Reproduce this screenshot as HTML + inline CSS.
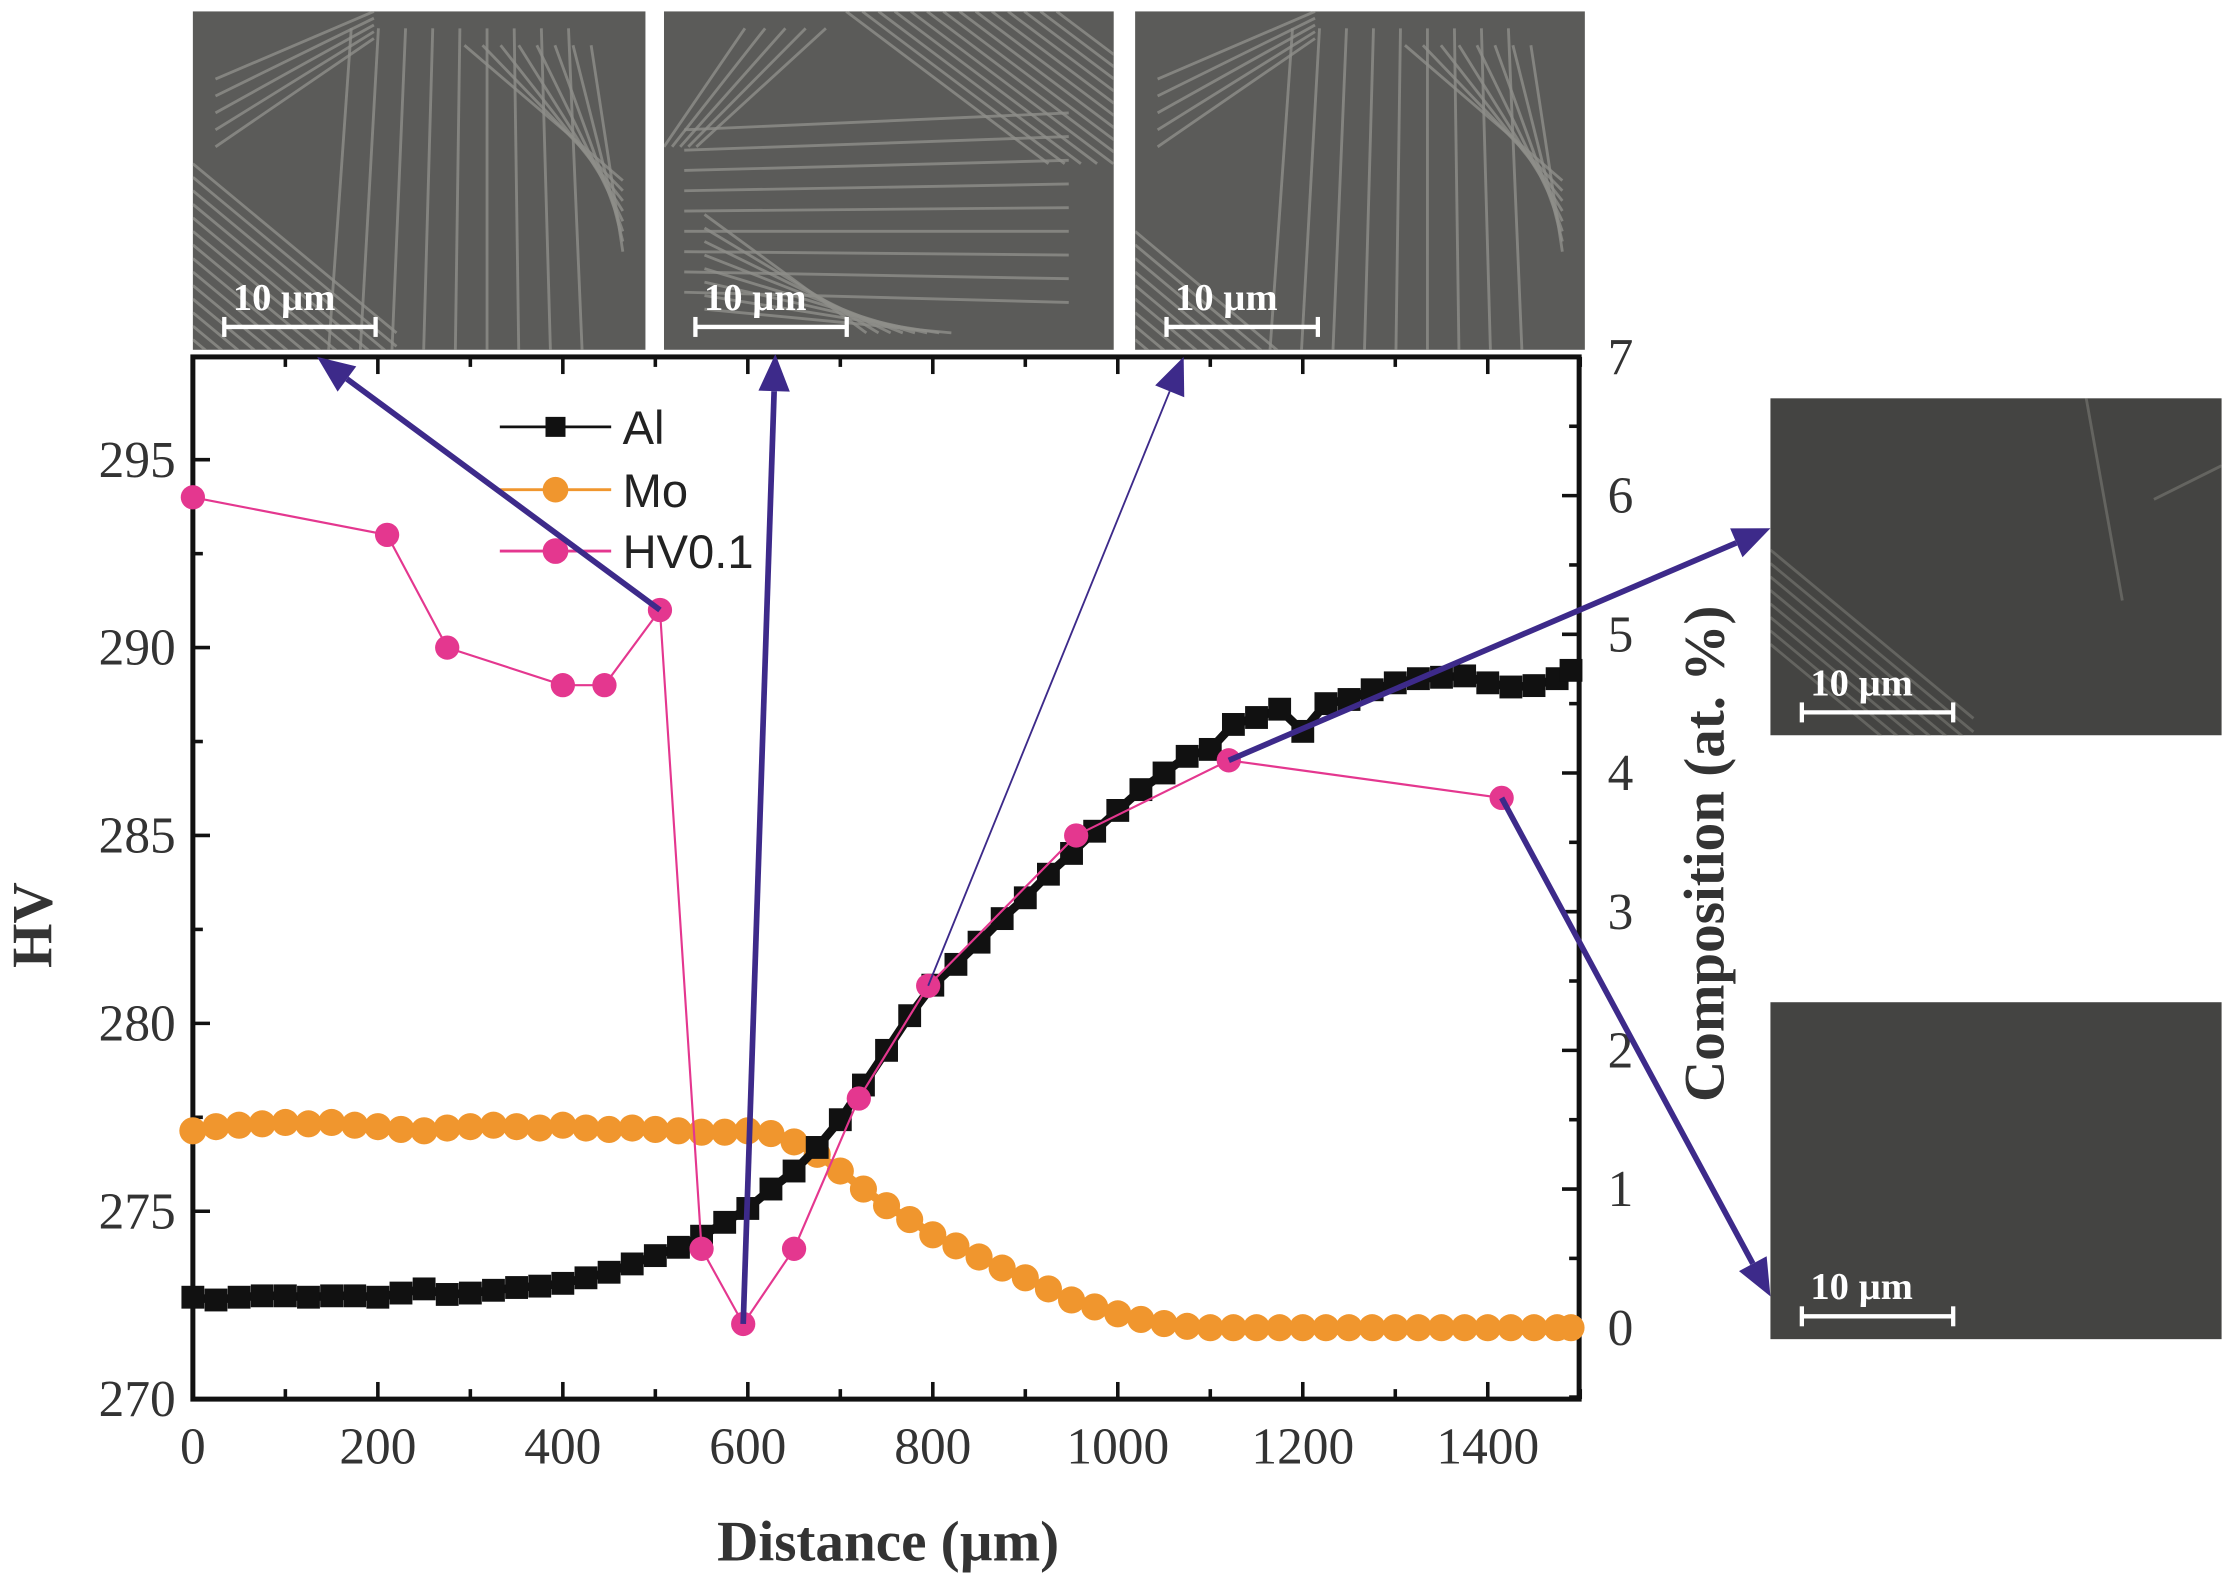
<!DOCTYPE html>
<html><head><meta charset="utf-8">
<style>
html,body{margin:0;padding:0;background:#fff;}
svg{display:block;}
.tick{font-family:"Liberation Serif",serif;font-size:36px;fill:#333;}
.title{font-family:"Liberation Serif",serif;font-size:40px;font-weight:bold;fill:#333;}
.leg{font-family:"Liberation Sans",sans-serif;font-size:33px;fill:#222;}
.sb{font-family:"Liberation Serif",serif;font-size:27px;font-weight:bold;fill:#fff;}
</style></head>
<body>
<svg id="chart" width="2226" height="1579" viewBox="0 0 1559 1106" xmlns="http://www.w3.org/2000/svg">
<defs id="defs"></defs>
<g id="images"></g>
<g id="plot"></g>
</svg>
<script>
// ---- data ----
const alX = [0,25,50,75,100,125,150,175,200,225,250,275,300,325,350,375,400,425,450,475,500,525,550,575,600,625,650,675,700,725,750,775,800,825,850,875,900,925,950,975,1000,1025,1050,1075,1100,1125,1150,1175,1200,1225,1250,1275,1300,1325,1350,1375,1400,1425,1450,1475,1490];
const alY = [0.22,0.2,0.22,0.23,0.23,0.22,0.23,0.23,0.22,0.25,0.28,0.24,0.25,0.27,0.29,0.3,0.32,0.36,0.4,0.46,0.52,0.58,0.66,0.76,0.86,1.0,1.13,1.3,1.5,1.75,2.0,2.25,2.47,2.62,2.78,2.95,3.1,3.27,3.42,3.58,3.73,3.88,4.0,4.12,4.17,4.35,4.4,4.46,4.3,4.5,4.53,4.6,4.65,4.68,4.69,4.7,4.65,4.62,4.63,4.68,4.74];
const moX = alX;
const moY = [1.42,1.45,1.46,1.47,1.48,1.47,1.48,1.46,1.45,1.43,1.42,1.44,1.45,1.46,1.45,1.44,1.46,1.44,1.43,1.44,1.43,1.42,1.41,1.41,1.42,1.4,1.34,1.25,1.13,1.0,0.88,0.78,0.67,0.59,0.51,0.43,0.36,0.28,0.2,0.15,0.1,0.06,0.03,0.01,0.0,0.0,0.0,0.0,0.0,0.0,0.0,0.0,0.0,0.0,0.0,0.0,0.0,0.0,0.0,0.0,0.0];
const hvX = [0,210,275,400,445,505,550,595,650,720,795,955,1120,1415];
const hvY = [294,293,290,289,289,291,274,272,274,278,281,285,287,286];
const xTicks = [0,200,400,600,800,1000,1200,1400];
const hvTicks = [270,275,280,285,290,295];
const compTicks = [0,1,2,3,4,5,6,7];

// ---- axes ----
const L=135,R=1106,T=250,B=980;
const sx = v => L + v*(1042-135)/1400;
const sy = v => 980 - (v-270)*(980-322)/25;
const sc = v => 930 - v*(930-250)/7;

const NS="http://www.w3.org/2000/svg";
function mk(tag, attrs, parent){const e=document.createElementNS(NS,tag);for(const k in attrs)e.setAttribute(k,attrs[k]);parent.appendChild(e);return e;}
const P=document.getElementById('plot');
const IM=document.getElementById('images');
const D=document.getElementById('defs');

let pid=0;
function panel(x,y,w,h,dark,name,lines){
  pid++;
  const cp=mk('clipPath',{id:'cp'+pid},D);
  mk('rect',{x:x,y:y,width:w,height:h},cp);
  const g=mk('g',{},IM);
  
  
  mk('rect',{x:x,y:y,width:w,height:h,fill:dark?'#444442':'#5b5b59'},g);
  const lg=mk('g',{'clip-path':'url(#cp'+pid+')'},g);
  lines.forEach(l=>mk('line',{x1:x+l[0]*w,y1:y+l[1]*h,x2:x+l[2]*w,y2:y+l[3]*h,stroke:dark?'#6d6d68':'#8f8f8a','stroke-width':2,opacity:0.8},lg));
  const sbx=x+22, sby=y+h-16;
  const t=mk('text',{x:sbx+6,y:sby-12,class:'sb'},g); t.textContent='10 µm';
  
  
  mk('line',{x1:sbx,y1:sby,x2:sbx+106,y2:sby,stroke:'#fff','stroke-width':3},g);
  mk('line',{x1:sbx,y1:sby-7,x2:sbx,y2:sby+7,stroke:'#fff','stroke-width':3},g);
  mk('line',{x1:sbx+106,y1:sby-7,x2:sbx+106,y2:sby+7,stroke:'#fff','stroke-width':3},g);
}
const lam=[];
for(let i=0;i<14;i++){lam.push([0,0.45+i*0.04,0.45,0.95+i*0.04]);}
for(let i=0;i<9;i++){lam.push([0.35+i*0.06,0.05,0.3+i*0.07,1]);}
for(let i=0;i<8;i++){lam.push([0.6+i*0.04,0.1,0.95,0.5+i*0.03]);}
for(let i=0;i<5;i++){lam.push([0.05,0.2+i*0.05,0.4,0.0+i*0.02]);}
const lam2=lam.map(l=>[l[1]*0.9,l[0],l[3]*0.9,l[2]]);
panel(135,8,317,237,false,'micrograph-top-1',lam);
panel(465,8,315,237,false,'micrograph-top-2',lam2);
panel(795,8,315,237,false,'micrograph-top-3',lam.slice(5));
panel(1240,279,316,236,true,'micrograph-right-1',lam.slice(0,8).concat([[0.7,0,0.78,0.6],[0.85,0.3,1,0.2]]));
panel(1240,702,316,236,true,'micrograph-right-2',[]);

// frame
const fr=mk('rect',{x:L,y:T,width:R-L,height:B-T,fill:'none',stroke:'#111','stroke-width':3.5},P);



for(let v=0;v<=1500;v+=100){
  const len = v%200===0?12:7;
  mk('line',{x1:sx(v),y1:B,x2:sx(v),y2:B-len,stroke:'#111','stroke-width':2.5},P);
  mk('line',{x1:sx(v),y1:T,x2:sx(v),y2:T+len,stroke:'#111','stroke-width':2.5},P);
}
xTicks.forEach(v=>{
  const t=mk('text',{x:sx(v),y:B+45,class:'tick','text-anchor':'middle'},P);t.textContent=v;
  
  
});
for(let v=270;v<=297;v+=2.5){
  const len=(v%5===0)?12:7;
  mk('line',{x1:L,y1:sy(v),x2:L+len,y2:sy(v),stroke:'#111','stroke-width':2.5},P);
}
hvTicks.forEach(v=>{
  const t=mk('text',{x:L-12,y:sy(v)+12,class:'tick','text-anchor':'end'},P);t.textContent=v;
  
  
});
for(let v=-0.5;v<=7;v+=0.5){
  const len=(Math.abs(v%1)<1e-9)?12:7;
  mk('line',{x1:R,y1:sc(v),x2:R-len,y2:sc(v),stroke:'#111','stroke-width':2.5},P);
}
compTicks.forEach(v=>{
  const t=mk('text',{x:R+20,y:sc(v)+12,class:'tick'},P);t.textContent=v;
  
  
});

let t=mk('text',{x:622,y:1093,class:'title','text-anchor':'middle'},P);t.textContent='Distance (µm)';


t=mk('text',{x:0,y:0,class:'title','text-anchor':'middle',transform:'translate(36,648) rotate(-90)'},P);t.textContent='HV';


t=mk('text',{x:0,y:0,class:'title','text-anchor':'middle',transform:'translate(1207,598) rotate(-90)'},P);t.textContent='Composition (at. %)';



function series(xs,ys,yf,color,shape,name,lw,ms){
  const g=mk('g',{},P);
  
  
  mk('polyline',{points:xs.map((x,i)=>sx(x)+','+yf(ys[i])).join(' '),fill:'none',stroke:color,'stroke-width':lw},g);
  xs.forEach((x,i)=>{
    let m;
    if(shape==='sq') m=mk('rect',{x:sx(x)-ms,y:yf(ys[i])-ms,width:2*ms,height:2*ms,fill:color},g);
    else m=mk('circle',{cx:sx(x),cy:yf(ys[i]),r:ms,fill:color},g);
    
    
  });
}
series(moX,moY,sc,'#f0962e','c','mo-series',6,9.5);
series(alX,alY,sc,'#111','sq','al-series',6,8);
series(hvX,hvY,sy,'#e4378f','c','hv-series',1.5,8.5);

const leg=[['Al','#111','sq',299],['Mo','#f0962e','c',343],['HV0.1','#e4378f','c',386]];
leg.forEach(l=>{
  const g=mk('g',{},P);
  
  
  mk('line',{x1:350,y1:l[3],x2:428,y2:l[3],stroke:l[1],'stroke-width':2},g);
  if(l[2]==='sq') mk('rect',{x:382,y:l[3]-7,width:14,height:14,fill:l[1]},g);
  else mk('circle',{cx:389,cy:l[3],r:9,fill:l[1]},g);
  const tt=mk('text',{x:436,y:l[3]+12,class:'leg'},g);tt.textContent=l[0];
});

function arrow(x1,y1,x2,y2,w,name){
  const g=mk('g',{},P);
  
  
  const c='#3d2a8a';
  const a=Math.atan2(y2-y1,x2-x1), hl=26, hw=11;
  const bx=x2-hl*Math.cos(a), by=y2-hl*Math.sin(a);
  mk('line',{x1:x1,y1:y1,x2:bx,y2:by,stroke:c,'stroke-width':w},g);
  const px=-Math.sin(a)*hw, py=Math.cos(a)*hw;
  mk('polygon',{points:`${x2},${y2} ${bx+px},${by+py} ${bx-px},${by-py}`,fill:c},g);
}
arrow(sx(505),sy(291),222,250,4,'arrow-to-micrograph-1');
arrow(sx(595),sy(272),543,248,4,'arrow-to-micrograph-2');
arrow(sx(795),sy(281),829,250,1.3,'arrow-to-micrograph-3');
arrow(sx(1120),sy(287),1240,370,4,'arrow-to-micrograph-4');
arrow(sx(1415),sy(286),1240,908,4,'arrow-to-micrograph-5');
</script>
</body></html>
